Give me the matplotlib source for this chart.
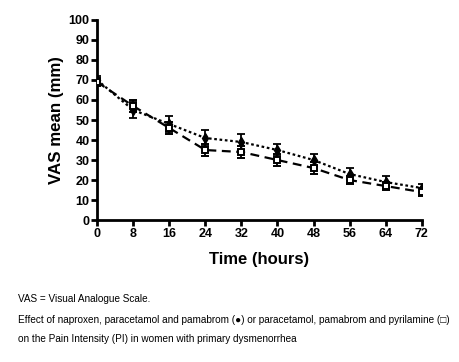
import matplotlib
matplotlib.use('Agg')
import matplotlib.pyplot as plt

plt.rcParams['font.family'] = ['Liberation Sans', 'DejaVu Sans']

hours = [0, 8, 16, 24, 32, 40, 48, 56, 64, 72]
# naproxen + paracetamol + pamabrom (filled)
vas_a = [70, 55, 48, 41, 39, 35, 30, 23, 19, 16]
err_a = [2, 4, 4, 4, 4, 3, 3, 3, 3, 2]
# paracetamol + pamabrom + pyrilamine (open square)
vas_b = [69, 57, 46, 35, 34, 30, 26, 20, 17, 14]
err_b = [2, 3, 3, 3, 3, 3, 3, 2, 2, 2]

y_ticks = list(range(0, 101, 10))
x_ticks = list(range(0, 73, 8))

fig = plt.figure(figsize=(4.6, 3.62), dpi=100)
ax = fig.add_axes([0.211, 0.392, 0.706, 0.553])

ax.errorbar(hours, vas_a, yerr=err_a, color='black', linestyle=(0, (1.2, 1.2)), linewidth=1.6,
            marker='d', markersize=5, markerfacecolor='black', capsize=3, elinewidth=1.3,
            capthick=1.3, zorder=3)
ax.errorbar(hours, vas_b, yerr=err_b, color='black', linestyle=(0, (4, 2.5)), linewidth=1.6,
            marker='s', markersize=5, markerfacecolor='white', markeredgewidth=1.4,
            capsize=3, elinewidth=1.3, capthick=1.3, zorder=4)

ax.set_xlim(0, 72)
ax.set_ylim(0, 100)
ax.set_xticks(x_ticks)
ax.set_yticks(y_ticks)
for side in ['top', 'right']:
    ax.spines[side].set_visible(False)
for side in ['left', 'bottom']:
    ax.spines[side].set_linewidth(2)
ax.tick_params(width=2, length=4, labelsize=9, pad=1.5)
for lbl in ax.get_xticklabels() + ax.get_yticklabels():
    lbl.set_fontweight('bold')

ax.set_xlabel('Time (hours)', fontsize=12, fontweight='bold', labelpad=9)
ax.set_ylabel('VAS mean (mm)', fontsize=12.2, fontweight='bold', labelpad=3)

fig.text(0.04, 0.175, 'VAS = Visual Analogue Scale.', fontsize=7.2, va='center')
fig.text(0.04, 0.115, 'Effect of naproxen, paracetamol and pamabrom (\u25cf) or paracetamol, pamabrom and pyrilamine (\u25a1)',
         fontsize=7.2, va='center')
fig.text(0.04, 0.063, 'on the Pain Intensity (PI) in women with primary dysmenorrhea', fontsize=7.2, va='center')

fig.savefig('out.png', dpi=100)
